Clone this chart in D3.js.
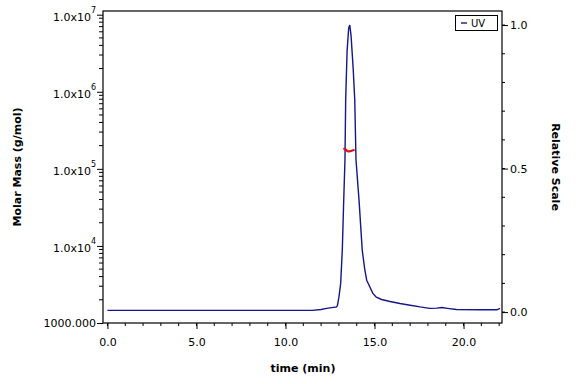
<!DOCTYPE html>
<html>
<head>
<meta charset="utf-8">
<script src="https://cdn.jsdelivr.net/npm/d3@7"></script>
<style>
  html, body { margin: 0; padding: 0; background: #fff; }
  svg { display: block; }
  text { font-family: "DejaVu Sans", Verdana, sans-serif; }
</style>
</head>
<body>
<svg id="chart" width="576" height="384"></svg>
<script>
// ---- data ----
const uvTime = [0, 11.5, 12.0, 12.3, 12.87, 12.92, 13.0, 13.10, 13.19, 13.27, 13.34, 13.38, 13.46, 13.55, 13.61, 13.68, 13.80, 13.89, 13.96, 14.13, 14.31, 14.45, 14.56, 14.72, 14.90, 15.10, 15.40, 15.87, 16.43, 17.0, 17.56, 18.1, 18.5, 18.78, 19.1, 19.6, 21.0, 21.87, 22.05];
const uvValue = [0.006, 0.006, 0.009, 0.013, 0.018, 0.024, 0.052, 0.10, 0.216, 0.39, 0.53, 0.74, 0.91, 0.99, 1.0, 0.965, 0.85, 0.74, 0.53, 0.39, 0.216, 0.15, 0.111, 0.09, 0.066, 0.052, 0.044, 0.037, 0.030, 0.024, 0.018, 0.013, 0.014, 0.016, 0.013, 0.009, 0.008, 0.008, 0.013];
const mmTime = [13.25, 13.32, 13.40, 13.48, 13.56, 13.64, 13.72, 13.80, 13.88];
const mmValue = [1.80e5, 1.82e5, 1.76e5, 1.70e5, 1.69e5, 1.70e5, 1.72e5, 1.74e5, 1.76e5];
const xTicks = [0, 5, 10, 15, 20];
const xMinorTicks = d3.range(0, 23, 1);
const leftMajor = [1e3, 1e4, 1e5, 1e6, 1e7];
const rightTicks = [0, 0.5, 1.0];
const rightMinor = d3.range(0, 11).map(i => i / 10);
const legendLabel = "UV";

// ---- layout ----
const L = 103, R = 502, T = 11, B = 323;
const svg = d3.select("#chart");

const x = d3.scaleLinear().domain([-0.25, 22.16]).range([L, R]);
const yL = d3.scaleLog().domain([1000, Math.pow(10, 7.048)]).range([B, T]);
const yR = d3.scaleLinear().domain([-0.038, 1.049]).range([B, T]);

const leftMinor = [];
[1e3, 1e4, 1e5, 1e6].forEach(d => { for (let k = 2; k <= 9; k++) leftMinor.push(d * k); });

// frame
svg.append("rect").attr("x", L).attr("y", T).attr("width", R - L).attr("height", B - T)
  .attr("fill", "none").attr("stroke", "#000").attr("stroke-width", 1.2);

// minor ticks
const gMinor = svg.append("g").attr("stroke", "#000").attr("stroke-width", 1);
gMinor.selectAll(".xm").data(xMinorTicks).join("line")
  .attr("x1", d => x(d)).attr("x2", d => x(d)).attr("y1", B).attr("y2", B + 3);
gMinor.selectAll(".lm").data(leftMinor).join("line")
  .attr("x1", L - 4).attr("x2", L).attr("y1", d => yL(d)).attr("y2", d => yL(d));
gMinor.selectAll(".rm").data(rightMinor).join("line")
  .attr("x1", R).attr("x2", R + 3).attr("y1", d => yR(d)).attr("y2", d => yR(d));

// bottom axis
const xAxis = svg.append("g").attr("transform", `translate(0,${B})`)
  .call(d3.axisBottom(x).tickValues(xTicks).tickSize(6).tickPadding(9).tickFormat(d3.format(".1f")));
xAxis.select(".domain").remove();
xAxis.selectAll("text").attr("font-size", 11).attr("font-family", "DejaVu Sans");

// left axis
const yAxisL = svg.append("g").attr("transform", `translate(${L},0)`)
  .call(d3.axisLeft(yL).tickValues(leftMajor).tickSize(6).tickPadding(1).tickFormat(d => d));
yAxisL.select(".domain").remove();
yAxisL.selectAll("text").attr("font-size", 11).attr("font-family", "DejaVu Sans").each(function(d) {
  const t = d3.select(this);
  t.text(null);
  if (d === 1000) {
    t.attr("dy", "0.32em").text("1000.000");
  } else {
    const e = Math.round(Math.log10(d));
    t.attr("dy", "0.5em");
    t.append("tspan").text("1.0x10");
    t.append("tspan").attr("font-size", 8).attr("dy", -8).text(e);
  }
});

// right axis
const yAxisR = svg.append("g").attr("transform", `translate(${R},0)`)
  .call(d3.axisRight(yR).tickValues(rightTicks).tickSize(6).tickPadding(2).tickFormat(d3.format(".1f")));
yAxisR.select(".domain").remove();
yAxisR.selectAll("text").attr("font-size", 11).attr("font-family", "DejaVu Sans");

// UV trace
const uvData = uvTime.map((t, i) => [t, uvValue[i]]);
svg.append("path").datum(uvData)
  .attr("fill", "none").attr("stroke", "#16168e").attr("stroke-width", 1.4)
  .attr("d", d3.line().x(d => x(d[0])).y(d => yR(d[1])));

// molar mass
const mmData = mmTime.map((t, i) => [t, mmValue[i]]);
svg.append("path").datum(mmData)
  .attr("fill", "none").attr("stroke", "#e01010").attr("stroke-width", 2.2)
  .attr("d", d3.line().x(d => x(d[0])).y(d => yL(d[1])));

// axis titles
svg.append("text").attr("transform", `translate(21,${(T + B) / 2}) rotate(-90)`)
  .attr("text-anchor", "middle").attr("font-weight", "bold").attr("font-size", 11)
  .text("Molar Mass (g/mol)");
svg.append("text").attr("x", 303).attr("y", 372)
  .attr("text-anchor", "middle").attr("font-weight", "bold").attr("font-size", 11)
  .text("time (min)");
svg.append("text").attr("transform", `translate(552,${(T + B) / 2}) rotate(90)`)
  .attr("text-anchor", "middle").attr("font-weight", "bold").attr("font-size", 11)
  .text("Relative Scale");

// legend
const lg = svg.append("g");
lg.append("rect").attr("x", 455.5).attr("y", 15.5).attr("width", 42).attr("height", 15)
  .attr("fill", "#fff").attr("stroke", "#000").attr("stroke-width", 1);
lg.append("line").attr("x1", 461).attr("x2", 467).attr("y1", 23).attr("y2", 23)
  .attr("stroke", "#16168e").attr("stroke-width", 1.4);
lg.append("text").attr("x", 471).attr("y", 27).attr("font-size", 10).text(legendLabel);
</script>
</body>
</html>
